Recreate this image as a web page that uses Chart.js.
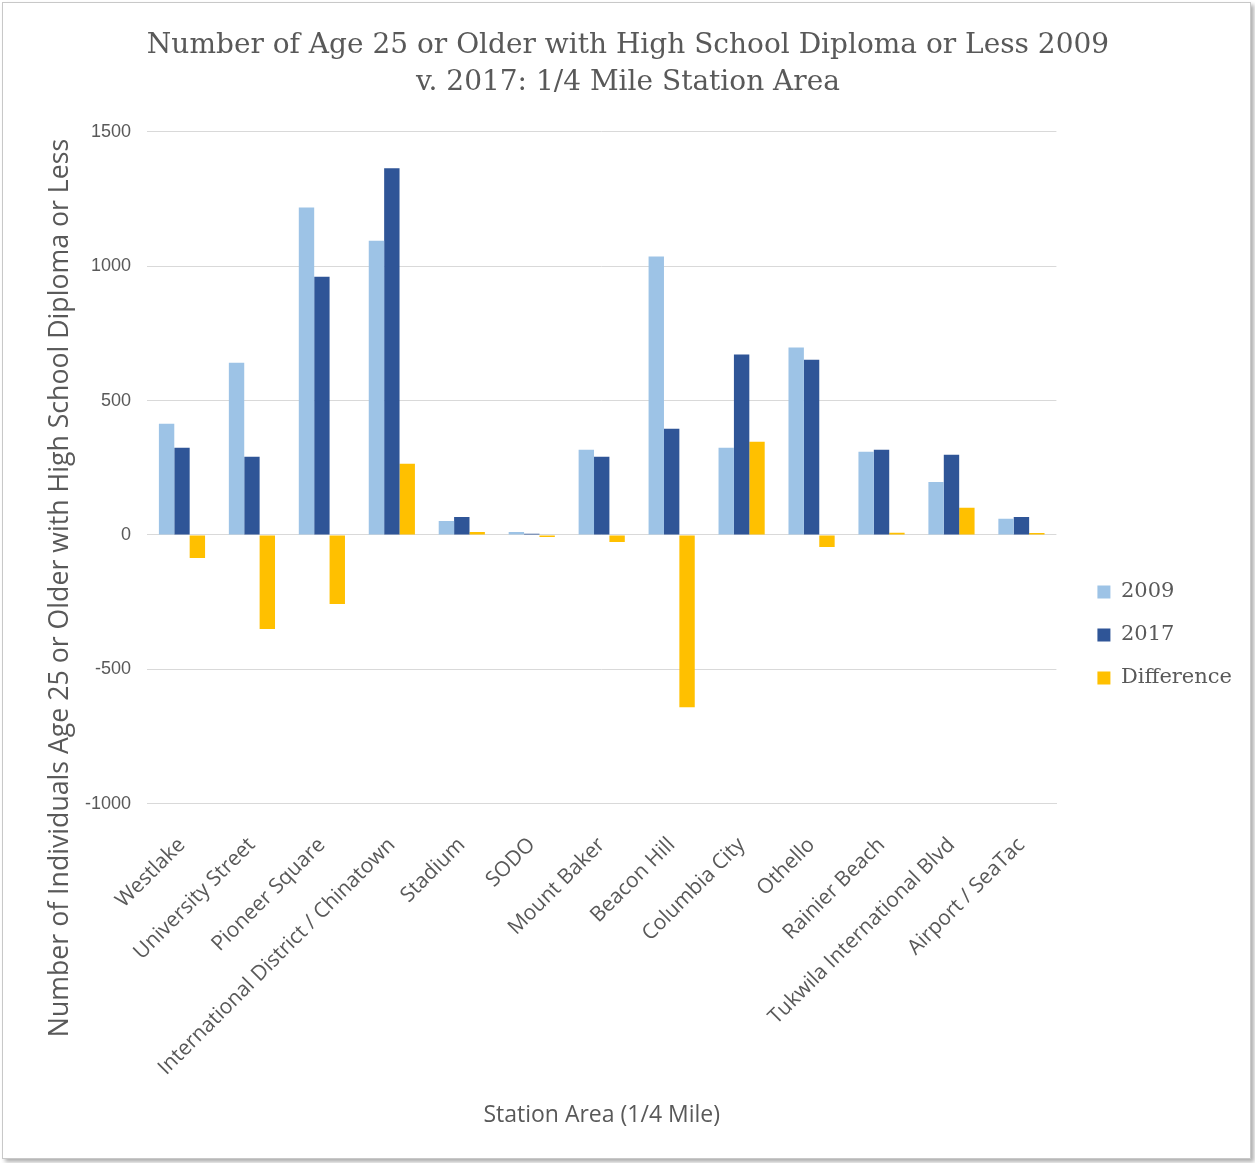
<!DOCTYPE html>
<html>
<head>
<meta charset="utf-8">
<script src="https://cdn.jsdelivr.net/npm/chart.js@4"></script>
<style>
html,body{margin:0;padding:0;background:#fff;}
#frame{position:absolute;left:2px;top:2px;width:1247px;height:1155px;border:1px solid #c8c8c8;box-shadow:3px 3px 4px #b0b0b0;background:#fff;}
#chart{position:absolute;left:0;top:0;}
</style>
</head>
<body>
<div id="frame">
<canvas id="chart" width="1247" height="1155"></canvas>
</div>
<script>
const stations = [
"Westlake",
"University Street",
"Pioneer Square",
"International District / Chinatown",
"Stadium",
"SODO",
"Mount Baker",
"Beacon Hill",
"Columbia City",
"Othello",
"Rainier Beach",
"Tukwila International Blvd",
"Airport / SeaTac"
];

const values2009 = [414, 641, 1218, 1095, 52, 11, 317, 1036, 324, 697, 309, 197, 60];
const values2017 = [324, 291, 961, 1364, 67, 4, 291, 395, 671, 652, 317, 298, 67];
const difference = [-86, -350, -257, 265, 11, -8, -26, -641, 347, -45, 8, 101, 7];

const yTicks = [-1000, -500, 0, 500, 1000, 1500];

const yTitle = "Number of Individuals Age 25 or Older with High School Diploma or Less";

const grey = "#595959";

// y axis title drawn by hand so it can sit lower than the plot centre, like the original
// and the legend nudged down/right to where Excel put it
const tweaks = {
id:"tweaks",
afterLayout(chart){
const lg = chart.legend;
lg.top += 57;
lg.bottom += 57;
lg.left += 19;
lg.right += 19;
},
afterDraw(chart){
const c = chart.ctx;
c.save();
c.translate(57, 585);
c.rotate(-Math.PI/2);
c.fillStyle = grey;
c.font = "26.7px 'Open Sans', sans-serif";
c.textAlign = "center";
c.textBaseline = "middle";
c.fillText(yTitle, 0, 0);
c.restore();
}
};

const ctx =
document
.getElementById("chart");

const chart =
new Chart(ctx,{
type:"bar",

data:{
labels:stations,

datasets:[
{label:"2009", data:values2009, backgroundColor:"#9dc3e6"},
{label:"2017", data:values2017, backgroundColor:"#2f5597"},
{label:"Difference", data:difference, backgroundColor:"#ffc000"}
]
},

plugins:[tweaks],

options:{
responsive:false,
animation:false,
layout:{padding:{left:30, right:27, top:20, bottom:25}},
datasets:{bar:{categoryPercentage:0.66, barPercentage:1}},
plugins:{
title:{
display:true,
text:["Number of Age 25 or Older with High School Diploma or Less 2009","v. 2017: 1/4 Mile Station Area"],
color:grey,
font:{family:"'DejaVu Serif', serif", size:28, weight:"normal", lineHeight:1.3},
padding:{top:5, bottom:31}
},
legend:{
position:"right",
labels:{
color:grey,
font:{family:"'DejaVu Serif', serif", size:21},
boxWidth:13,
boxHeight:13,
padding:22
}
},
tooltip:{enabled:false}
},
scales:{
x:{
grid:{display:false},
border:{color:"#d9d9d9"},
ticks:{
color:grey,
font:{family:"'Open Sans', sans-serif", size:21},
maxRotation:45,
minRotation:45,
autoSkip:false,
padding:21
},
title:{
display:true,
text:"Station Area (1/4 Mile)",
color:grey,
font:{family:"'Open Sans', sans-serif", size:23},
padding:{top:0}
}
},
y:{
min:-1000,
max:1500,
afterBuildTicks:(axis)=>{
axis.ticks = yTicks.map(v=>({value:v}));
},
afterFit:(axis)=>{
axis.width = 114;
},
grid:{color:"#d9d9d9", drawTicks:false},
border:{display:false},
ticks:{
color:grey,
font:{family:"'Liberation Sans', sans-serif", size:18},
padding:16,
callback:(v)=>String(v)
}
}
}
}
});
</script>
</body>
</html>
